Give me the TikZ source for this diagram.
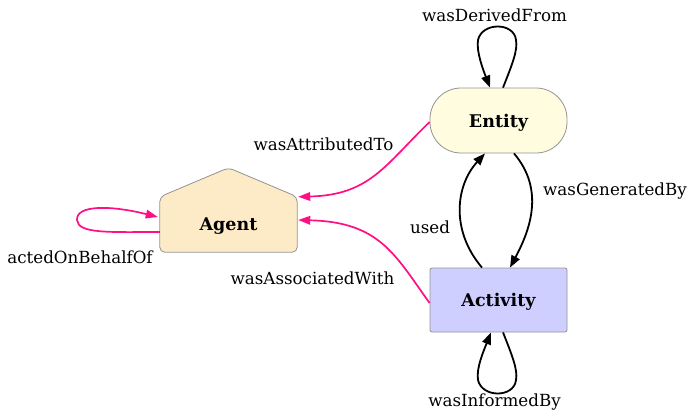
\documentclass[tikz,border=0pt]{standalone}
\usepackage{fontspec}
\setmainfont{DejaVu Serif}
\usetikzlibrary{arrows.meta,backgrounds}
\definecolor{entfill}{HTML}{FFFCDF}
\definecolor{agfill}{HTML}{FDEBC8}
\definecolor{actfill}{HTML}{CFCFFF}
\definecolor{bordergray}{HTML}{939393}
\definecolor{provmag}{HTML}{FF0F84}
\tikzset{
  lbl/.style={font=\fontsize{16.7}{20}\selectfont, inner sep=0pt},
  boldlbl/.style={font=\fontsize{17.5}{21}\selectfont\bfseries, text depth=0pt},
  nodebox/.style={draw=bordergray, line width=0.8pt, minimum width=137pt, boldlbl, inner sep=0pt},
  blackedge/.style={line width=1.8pt, -{Triangle[length=12pt,width=9pt]}},
  magedge/.style={draw=provmag, line width=1.7pt, -{Triangle[length=12pt,width=8.5pt]}, provmag},
}
\begin{document}
\begin{tikzpicture}[x=1pt,y=1pt]
\useasboundingbox (0,0) rectangle (688,-413);
% nodes
\node[nodebox, fill=entfill, minimum height=65pt, rounded corners=31pt] (entity) at (498.5,-120.5) {Entity};
\node[nodebox, fill=actfill, minimum height=64pt, rounded corners=2pt] (activity) at (498.5,-300) {Activity};
\node[boldlbl, minimum width=137pt, minimum height=55pt, inner sep=0pt] (agent) at (228.5,-224.5) {Agent};
\begin{scope}[on background layer]
\draw[draw=bordergray, line width=0.8pt, fill=agfill, rounded corners=5pt]
  (agent.south west) -- (agent.north west) -- ([yshift=29pt]agent.north) -- (agent.north east) -- (agent.south east) -- cycle;
\end{scope}
% labels
\node[lbl] (lDer) at (494.5,-15) {wasDerivedFrom};
\node[lbl] (lAttr) at (323.5,-144) {wasAttributedTo};
\node[lbl] (lGen) at (615,-191) {wasGeneratedBy};
\node[lbl] (lUsed) at (430,-227) {used};
\node[lbl] (lAssoc) at (312.5,-278) {wasAssociatedWith};
\node[lbl] (lActed) at (80,-257) {actedOnBehalfOf};
\node[lbl] (lInf) at (494.5,-402) {wasInformedBy};
% black edges
\draw[blackedge] ([xshift=4.5pt]entity.north) .. controls (512,-65) and (518,-50) .. (516,-40)
  .. controls (514,-22) and (482,-22) .. (478,-40)
  .. controls (476,-52) and (484,-72) .. ([xshift=-8.5pt]entity.north);
\draw[blackedge] ([xshift=15.5pt]entity.south) .. controls (545,-190) and (530,-230) .. ([xshift=11.5pt]activity.north);
\draw[blackedge] ([xshift=-16.5pt]activity.north) .. controls (450,-230) and (456,-185) .. ([xshift=-13.5pt]entity.south);
\draw[blackedge] ([xshift=4.5pt]activity.south) .. controls (512,-355) and (518,-370) .. (516,-380)
  .. controls (514,-398) and (482,-398) .. (478,-380)
  .. controls (476,-368) and (484,-350) .. ([xshift=-7.5pt]activity.south);
% magenta edges
\draw[magedge] ([yshift=-1.5pt]entity.west) .. controls (385,-165) and (370,-195) .. ([xshift=1pt]agent.north east);
\draw[magedge] ([yshift=-3pt]activity.west) .. controls (395,-255) and (380,-222) .. ([xshift=1pt,yshift=4.5pt]agent.east);
\draw[magedge] ([yshift=-7.5pt]agent.west) .. controls (110,-232) and (78,-234) .. (77,-220)
  .. controls (76,-205) and (110,-205) .. ([xshift=-2pt,yshift=7.5pt]agent.west);
\end{tikzpicture}
\end{document}
